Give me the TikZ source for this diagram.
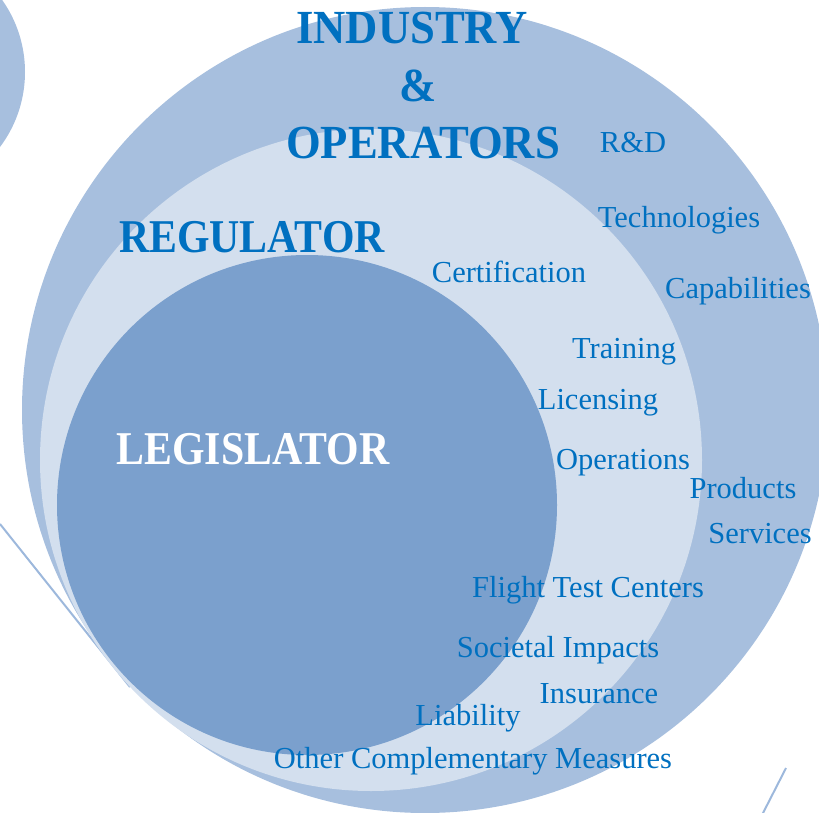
\documentclass[tikz,border=0pt]{standalone}
\usepackage{fontspec}
\setmainfont{Liberation Serif}
\newfontfamily\ttlfont[FakeStretch=0.89]{Liberation Serif}
\newfontfamily\ttlwfont[FakeStretch=0.94]{Liberation Serif}
\definecolor{outerc}{HTML}{A7BFDE}
\definecolor{midc}{HTML}{D3DFEE}
\definecolor{innerc}{HTML}{7BA0CD}
\definecolor{txtc}{HTML}{0070C0}
\definecolor{linec}{HTML}{9DB8DC}
\tikzset{
  ttl/.style={anchor=base, inner sep=0pt, text=txtc, font=\ttlfont\bfseries\fontsize{47}{50}\selectfont},
  ttlw/.style={anchor=base, inner sep=0pt, text=txtc, font=\ttlwfont\bfseries\fontsize{47.5}{50}\selectfont},
  lbl/.style={anchor=base, inner sep=0pt, text=txtc, font=\fontsize{30.5}{34}\selectfont},
  deco/.style={draw=linec, line width=2pt}
}
\begin{document}
\begin{tikzpicture}[x=1pt,y=-1pt]
\useasboundingbox (0,0) rectangle (819,813);
\clip (0,0) rectangle (819,813);
% decorative lines
\coordinate (l1a) at (0,524);
\coordinate (l1b) at (130,687);
\coordinate (l2a) at (786,768);
\coordinate (l2b) at (762,815);
\draw[deco] (l1a) -- (l1b);
\draw[deco] (l2a) -- (l2b);
% circles
\fill[outerc] (-100,72) circle[radius=125pt];
\fill[outerc] (425,410) circle[radius=403pt];
\fill[midc] (371,460) circle[radius=331pt];
\fill[innerc] (307,505) circle[radius=250pt];
% titles
\node[ttlw] (ind) at (412,44) {INDUSTRY};
\node[ttlw] (amp) at (418,102) {\&};
\node[ttlw] (ope) at (423,159) {OPERATORS};
\node[ttl] (reg) at (252,252) {REGULATOR};
\node[ttl, text=white] (leg) at (253,464) {LEGISLATOR};
% labels
\node[lbl] (rd) at (633,153) {R\&D};
\node[lbl] (tech) at (679,227) {Technologies};
\node[lbl] (cap) at (738,298) {Capabilities};
\node[lbl] (cert) at (509,282) {Certification};
\node[lbl] (train) at (624,358) {Training};
\node[lbl] (lic) at (598,409) {Licensing};
\node[lbl] (oper) at (623,469) {Operations};
\node[lbl] (prod) at (743,498) {Products};
\node[lbl] (serv) at (760,543) {Services};
\node[lbl] (ftc) at (588,597) {Flight Test Centers};
\node[lbl] (soc) at (558,657) {Societal Impacts};
\node[lbl] (ins) at (599,703) {Insurance};
\node[lbl] (liab) at (468,725) {Liability};
\node[lbl] (other) at (473,768) {Other Complementary Measures};
\end{tikzpicture}
\end{document}
